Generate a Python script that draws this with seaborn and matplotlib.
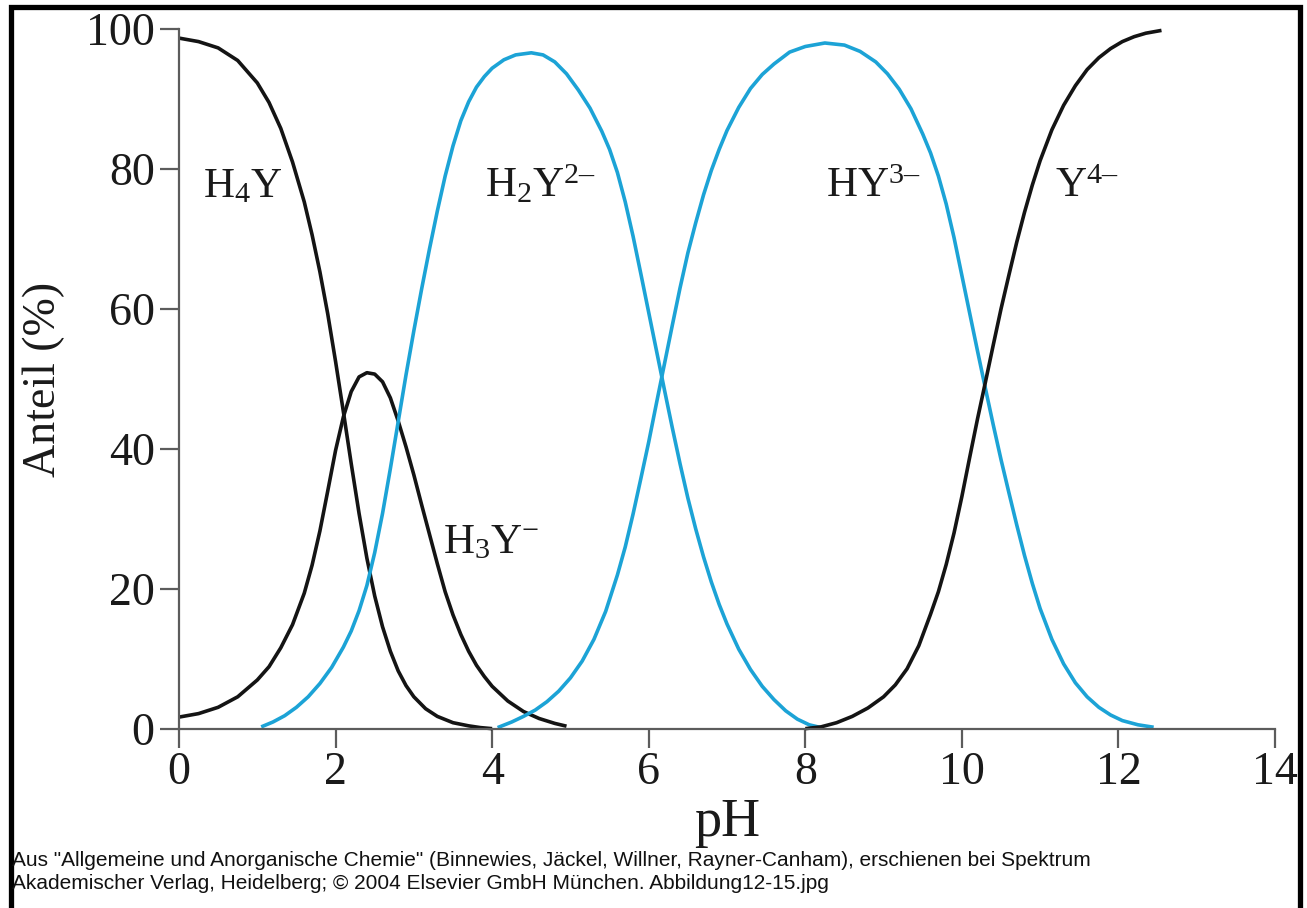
import matplotlib
matplotlib.use("Agg")
import matplotlib.pyplot as plt
from matplotlib.lines import Line2D
import pandas as pd
import seaborn as sns

# Species distribution of EDTA (H4Y) versus pH, values in percent
ph_h4y = [0.0, 0.25, 0.5, 0.75, 1.0, 1.15, 1.3, 1.45, 1.6, 1.7, 1.8, 1.9, 2.0, 2.1, 2.2, 2.3,
          2.4, 2.5, 2.6, 2.7, 2.8, 2.9, 3.0, 3.15, 3.3, 3.5, 3.7, 3.85, 4.0]
pct_h4y = [98.7, 98.2, 97.3, 95.5, 92.3, 89.5, 85.8, 81.0, 75.3, 70.6, 65.3, 59.3, 52.5, 45.3,
           37.9, 30.8, 24.4, 19.0, 14.6, 11.1, 8.3, 6.2, 4.6, 2.9, 1.8, 0.9, 0.45, 0.2, 0.05]

ph_h3y = [0.0, 0.25, 0.5, 0.75, 1.0, 1.15, 1.3, 1.45, 1.6, 1.7, 1.8, 1.9, 2.0, 2.1, 2.2, 2.3,
          2.4, 2.5, 2.6, 2.7, 2.8, 2.9, 3.0, 3.1, 3.2, 3.3, 3.4, 3.5, 3.6, 3.7, 3.8, 3.9, 4.0,
          4.2, 4.4, 4.6, 4.8, 4.95]
pct_h3y = [1.7, 2.2, 3.1, 4.6, 7.0, 8.9, 11.6, 14.9, 19.4, 23.4, 28.3, 34.0, 39.8, 44.6, 48.2,
           50.3, 50.9, 50.7, 49.6, 47.3, 44.0, 40.3, 36.3, 32.0, 27.8, 23.6, 19.6, 16.3, 13.5,
           11.1, 9.1, 7.5, 6.1, 4.0, 2.5, 1.5, 0.8, 0.4]

ph_h2y = [1.05, 1.2, 1.35, 1.5, 1.65, 1.8, 1.95, 2.1, 2.2, 2.3, 2.4, 2.5, 2.6, 2.7, 2.8, 2.9,
          3.0, 3.1, 3.2, 3.3, 3.4, 3.5, 3.6, 3.7, 3.8, 3.9, 4.0, 4.15, 4.3, 4.5, 4.65, 4.8, 4.95,
          5.1, 5.25, 5.4, 5.5, 5.6, 5.7, 5.8, 5.9, 6.0, 6.1, 6.2, 6.3, 6.4, 6.5, 6.6, 6.7, 6.8,
          6.9, 7.0, 7.15, 7.3, 7.45, 7.6, 7.75, 7.9, 8.05, 8.2]
pct_h2y = [0.3, 1.0, 1.9, 3.1, 4.6, 6.5, 8.8, 11.7, 14.0, 16.9, 20.5, 25.2, 30.8, 37.2, 43.9,
           50.6, 56.9, 62.9, 68.6, 74.0, 79.0, 83.3, 86.9, 89.6, 91.7, 93.2, 94.4, 95.6, 96.3,
           96.6, 96.3, 95.3, 93.6, 91.3, 88.7, 85.4, 82.8, 79.5, 75.3, 70.4, 65.0, 59.5, 54.0,
           48.5, 43.1, 37.9, 33.0, 28.6, 24.6, 21.0, 17.8, 15.0, 11.4, 8.5, 6.1, 4.2, 2.6, 1.4,
           0.6, 0.2]

ph_hy = [4.07, 4.25, 4.4, 4.55, 4.7, 4.85, 5.0, 5.15, 5.3, 5.45, 5.6, 5.7, 5.8, 5.9, 6.0, 6.1,
         6.2, 6.3, 6.4, 6.5, 6.6, 6.7, 6.8, 6.9, 7.0, 7.15, 7.3, 7.45, 7.6, 7.8, 8.0, 8.25, 8.5,
         8.7, 8.9, 9.05, 9.2, 9.35, 9.5, 9.6, 9.7, 9.8, 9.9, 10.0, 10.1, 10.2, 10.3, 10.4, 10.5,
         10.6, 10.7, 10.8, 10.9, 11.0, 11.15, 11.3, 11.45, 11.6, 11.75, 11.9, 12.05, 12.25, 12.45]
pct_hy = [0.2, 1.0, 1.8, 2.7, 3.9, 5.4, 7.3, 9.7, 12.8, 16.8, 22.0, 26.0, 30.7, 35.8, 41.0,
          46.6, 52.1, 57.6, 63.0, 68.0, 72.3, 76.3, 79.8, 82.8, 85.5, 88.8, 91.5, 93.5, 95.0,
          96.7, 97.5, 98.0, 97.7, 96.8, 95.3, 93.6, 91.4, 88.6, 85.0, 82.3, 79.0, 75.0, 70.2,
          64.8, 59.4, 54.0, 48.7, 43.5, 38.5, 33.8, 29.2, 24.8, 20.8, 17.2, 12.8, 9.3, 6.6, 4.6,
          3.1, 2.0, 1.2, 0.6, 0.25]

ph_y = [8.0, 8.2, 8.4, 8.6, 8.8, 9.0, 9.15, 9.3, 9.45, 9.6, 9.7, 9.8, 9.9, 10.0, 10.1, 10.2,
        10.3, 10.4, 10.5, 10.6, 10.7, 10.8, 10.9, 11.0, 11.15, 11.3, 11.45, 11.6, 11.75, 11.9,
        12.05, 12.2, 12.35, 12.55]
pct_y = [0.05, 0.3, 0.9, 1.8, 3.0, 4.6, 6.3, 8.6, 11.9, 16.4, 19.6, 23.5, 28.0, 33.2, 38.8,
         44.3, 49.5, 54.8, 60.0, 64.8, 69.5, 73.8, 77.7, 81.2, 85.6, 89.1, 91.9, 94.2, 95.9,
         97.2, 98.2, 98.9, 99.4, 99.8]

species = ["H4Y", "H3Y-", "H2Y2-", "HY3-", "Y4-"]
colors = {"H4Y": "#141414", "H3Y-": "#141414", "H2Y2-": "#1ca3d6",
          "HY3-": "#1ca3d6", "Y4-": "#141414"}

frames = []
for name, xs, ys in zip(species,
                        [ph_h4y, ph_h3y, ph_h2y, ph_hy, ph_y],
                        [pct_h4y, pct_h3y, pct_h2y, pct_hy, pct_y]):
    frames.append(pd.DataFrame({"pH": xs, "Anteil": ys, "Spezies": name}))
df = pd.concat(frames, ignore_index=True)

sns.set_style("ticks")
plt.rcParams["font.family"] = ["Liberation Serif", "DejaVu Serif"]
plt.rcParams["mathtext.fontset"] = "custom"
plt.rcParams["mathtext.rm"] = "Liberation Serif"
plt.rcParams["mathtext.it"] = "Liberation Serif:italic"
plt.rcParams["mathtext.bf"] = "Liberation Serif:bold"

W, H = 1307, 908
fig = plt.figure(figsize=(W / 100, H / 100), dpi=100)
fig.patch.set_facecolor("white")
ax = fig.add_axes([179 / W, (H - 729) / H, (1275 - 179) / W, 700 / H])

sns.lineplot(data=df, x="pH", y="Anteil", hue="Spezies", palette=colors,
             estimator=None, sort=True, linewidth=2.6, legend=False, ax=ax)
for line in ax.get_lines():
    line.set_clip_on(False)
    line.set_solid_capstyle("butt")
    line.set_solid_joinstyle("round")

ax.set_xlim(0, 14)
ax.set_ylim(0, 100)
ax.set_xticks(range(0, 15, 2))
ax.set_yticks(range(0, 101, 20))

axis_grey = "#5c5c5c"
for side in ("top", "right"):
    ax.spines[side].set_visible(False)
for side in ("left", "bottom"):
    ax.spines[side].set_color(axis_grey)
    ax.spines[side].set_linewidth(1.6)
ax.tick_params(axis="both", direction="out", length=13.5, width=1.6,
               color=axis_grey, labelsize=33, labelcolor="#1a1a1a")
ax.tick_params(axis="x", pad=3)
ax.tick_params(axis="y", pad=4)

ax.set_xlabel("pH", fontsize=39, color="#1a1a1a", labelpad=2)
ax.set_ylabel("Anteil (%)", fontsize=33, color="#1a1a1a", labelpad=15)

label_kw = dict(fontsize=31, color="#1a1a1a", ha="center", va="baseline")
ax.text(0.81, 76.0, r"$\mathrm{H_4Y}$", **label_kw)
ax.text(4.62, 76.0, r"$\mathrm{H_2Y^{2–}}$", **label_kw)
ax.text(8.87, 76.0, r"$\mathrm{HY^{3–}}$", **label_kw)
ax.text(11.6, 76.0, r"$\mathrm{Y^{4–}}$", **label_kw)
ax.text(3.99, 25.1, r"$\mathrm{H_3Y^{-}}$", **label_kw)

# Source note below the chart
foot_kw = dict(fontsize=15, color="#111111", ha="left", va="baseline",
               family=["Liberation Sans", "DejaVu Sans"])
fig.text(12 / W, 1 - 866 / H,
         "Aus \"Allgemeine und Anorganische Chemie\" (Binnewies, Jäckel, Willner, "
         "Rayner-Canham), erschienen bei Spektrum", **foot_kw)
fig.text(12 / W, 1 - 889 / H,
         "Akademischer Verlag, Heidelberg; © 2004 Elsevier GmbH München. Abbildung12-15.jpg",
         **foot_kw)

# Black frame (left, top, right)
frame = Line2D([10.5 / W, 10.5 / W, 1300 / W, 1300 / W],
               [-0.02, 1 - 6.5 / H, 1 - 6.5 / H, -0.02],
               transform=fig.transFigure, color="black", linewidth=3.8,
               solid_joinstyle="miter")
fig.add_artist(frame)

fig.savefig("out.png", dpi=100, facecolor="white")
